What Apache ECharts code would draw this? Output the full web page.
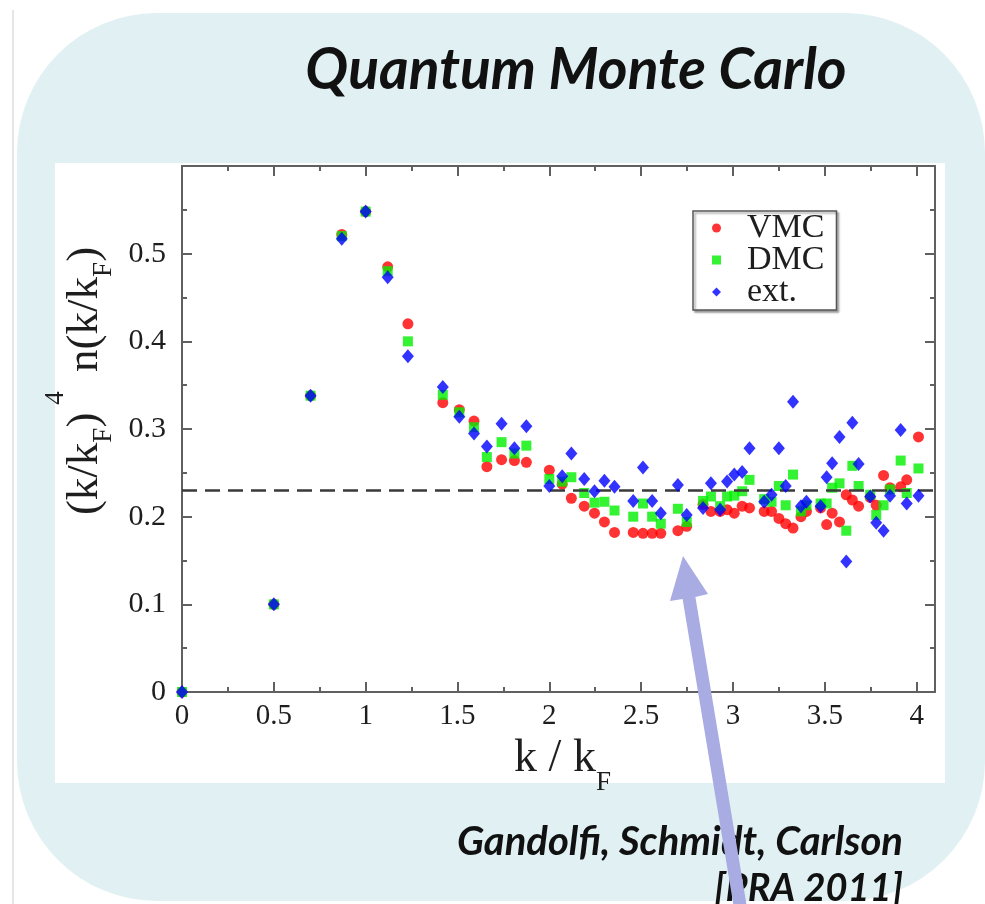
<!DOCTYPE html>
<html>
<head>
<meta charset="utf-8">
<script src="https://cdn.jsdelivr.net/npm/echarts@6/dist/echarts.min.js"></script>
<style>
  html, body { margin: 0; padding: 0; background: #ffffff; }
  #chart { width: 985px; height: 904px; }
</style>
</head>
<body>
<div id="chart"></div>
<script>
// k / kF positions (shared by the three runs)
var kValues = [0, 0.5, 0.7, 0.87, 1.0, 1.12, 1.23, 1.42, 1.51, 1.59, 1.66, 1.74, 1.81, 1.875,
  2.0, 2.07, 2.12, 2.19, 2.246, 2.30, 2.355, 2.457, 2.51, 2.56, 2.607, 2.70, 2.748,
  2.837, 2.88, 2.93, 2.968, 3.007, 3.05, 3.09, 3.17, 3.21, 3.25, 3.287, 3.327, 3.37,
  3.40, 3.477, 3.51, 3.54, 3.58, 3.617, 3.65, 3.684, 3.747, 3.78, 3.82, 3.855, 3.913,
  3.946, 4.01];

// (k/kF)^4 n(k/kF)
var vmc = [0, 0.1, 0.338, 0.522, 0.548, 0.485, 0.42, 0.33, 0.322, 0.309, 0.257, 0.265, 0.264, 0.262,
  0.253, 0.237, 0.221, 0.212, 0.204, 0.194, 0.182, 0.182, 0.181, 0.181, 0.181, 0.184, 0.189,
  0.214, 0.206, 0.206, 0.208, 0.204, 0.212, 0.21, 0.206, 0.206, 0.198, 0.192, 0.187, 0.2,
  0.206, 0.21, 0.191, 0.204, 0.194, 0.225, 0.219, 0.212, 0.222, 0.213, 0.247, 0.233, 0.234,
  0.242, 0.291];
var dmc = [0, 0.1, 0.338, 0.52, 0.548, 0.48, 0.40, 0.339, 0.319, 0.302, 0.268, 0.285, 0.272, 0.281,
  0.243, 0.24, 0.245, 0.227, 0.216, 0.217, 0.207, 0.2, 0.215, 0.2, 0.192, 0.209, 0.194,
  0.218, 0.223, 0.212, 0.223, 0.224, 0.229, 0.242, 0.22, 0.217, 0.235, 0.213, 0.248, 0.206,
  0.213, 0.215, 0.215, 0.233, 0.238, 0.184, 0.258, 0.235, 0.225, 0.202, 0.213, 0.231, 0.264,
  0.227, 0.255];
var ext = [0, 0.1, 0.338, 0.517, 0.548, 0.473, 0.383, 0.348, 0.314, 0.295, 0.28, 0.306, 0.278, 0.303,
  0.235, 0.246, 0.272, 0.243, 0.229, 0.241, 0.234, 0.218, 0.256, 0.218, 0.204, 0.236, 0.202,
  0.21, 0.238, 0.208, 0.24, 0.248, 0.251, 0.278, 0.217, 0.225, 0.278, 0.235, 0.331, 0.212,
  0.217, 0.212, 0.245, 0.261, 0.291, 0.149, 0.307, 0.26, 0.223, 0.193, 0.184, 0.224, 0.299,
  0.215, 0.224];

var seriesNames = ["VMC", "DMC", "ext."];
var refLevel = 0.23;

var SERIF = "'Liberation Serif', 'DejaVu Serif', serif";
var SANS = "Lato, 'Open Sans', sans-serif";
var AXIS_COLOR = "#606060";
var INK = "#1e1e1e";

function pairs(ys) {
  return ys.map(function (y, i) { return [kValues[i], y]; });
}

function onGrid(v, step) {
  return Math.abs(v / step - Math.round(v / step)) < 1e-6;
}

var frameTick = { show: true, inside: true, length: 10, lineStyle: { color: AXIS_COLOR, width: 2 } };
var frameMinor = { show: true, splitNumber: 2, length: 5, lineStyle: { color: AXIS_COLOR, width: 2 } };
var frameLine = { show: true, onZero: false, lineStyle: { color: AXIS_COLOR, width: 2 } };

var chart = echarts.init(document.getElementById("chart"), null, { renderer: "canvas" });

chart.setOption({
  backgroundColor: "#ffffff",
  animation: false,
  textStyle: { fontFamily: SERIF },
  graphic: [
    { type: "line", z: -20, shape: { x1: 13, y1: 10, x2: 13, y2: 904 },
      style: { stroke: "#e6e6e6", lineWidth: 2 } },
    { type: "rect", z: -20, shape: { x: 17, y: 13, width: 968, height: 888, r: 140 },
      style: { fill: "#e1f0f3" } },
    { type: "rect", z: -10, shape: { x: 55, y: 163, width: 890, height: 620 },
      style: { fill: "#ffffff" } },
    { type: "text", z: 5, x: 576, y: 71,
      style: { text: "Quantum Monte Carlo", fontFamily: SANS, fontWeight: "bold", fontStyle: "italic",
               fontSize: 57, fill: "#111111", textAlign: "center", textVerticalAlign: "middle" } },
    { type: "text", z: 5, x: 903, y: 842,
      style: { text: "Gandolfi, Schmidt, Carlson", fontFamily: SANS, fontWeight: "bold", fontStyle: "italic",
               fontSize: 40, fill: "#111111", textAlign: "right", textVerticalAlign: "middle" } },
    { type: "text", z: 5, x: 903, y: 889,
      style: { text: "[PRA 2011]", fontFamily: SANS, fontWeight: "bold", fontStyle: "italic",
               fontSize: 38, fill: "#111111", textAlign: "right", textVerticalAlign: "middle" } },
    { type: "polygon", z: 100,
      shape: { points: [[670, 601], [683, 556], [708, 594], [695.4, 597], [747.4, 910],
                        [734.6, 912], [682.6, 599]] },
      style: { fill: "#a9ace2" } }
  ],
  legend: {
    orient: "vertical",
    left: 693,
    top: 211,
    padding: [0, 12, 1, 19],
    itemGap: -2,
    itemWidth: 9,
    itemHeight: 9,
    backgroundColor: "#ffffff",
    borderColor: "#555555",
    borderWidth: 1.5,
    borderRadius: 0,
    shadowColor: "rgba(0,0,0,0.35)",
    shadowBlur: 2,
    shadowOffsetX: 2,
    shadowOffsetY: 2,
    textStyle: { fontFamily: SERIF, fontSize: 34, color: INK, padding: [0, 0, 0, 21] },
    data: [
      { name: seriesNames[0], icon: "circle" },
      { name: seriesNames[1], icon: "rect" },
      { name: seriesNames[2], icon: "diamond" }
    ]
  },
  grid: { left: 182, top: 166, width: 753, height: 526, containLabel: false },
  xAxis: [{
    type: "value", min: 0, max: 4.1, interval: 0.5, position: "bottom",
    axisLine: frameLine, axisTick: frameTick, minorTick: frameMinor,
    splitLine: { show: false }, minorSplitLine: { show: false },
    axisLabel: { fontFamily: SERIF, fontSize: 29, color: INK, margin: 10, showMaxLabel: false,
                 formatter: function (v) { return onGrid(v, 0.5) ? String(v) : ""; } },
    name: "{n|k / k}{s|F}",
    nameLocation: "middle",
    nameGap: 19,
    nameTextStyle: {
      padding: [0, 0, 0, 8],
      rich: {
        n: { fontFamily: SERIF, fontSize: 46, color: INK, lineHeight: 56, verticalAlign: "top" },
        s: { fontFamily: SERIF, fontSize: 27, color: INK, lineHeight: 28, verticalAlign: "top",
             padding: [34, 0, 0, 0] }
      }
    }
  }, {
    type: "value", min: 0, max: 4.1, interval: 0.5, position: "top",
    axisLine: frameLine, axisTick: frameTick, minorTick: frameMinor,
    splitLine: { show: false }, axisLabel: { show: false }
  }],
  yAxis: [{
    type: "value", min: 0, max: 0.6, interval: 0.1, position: "left",
    axisLine: frameLine, axisTick: frameTick, minorTick: frameMinor,
    splitLine: { show: false }, minorSplitLine: { show: false },
    axisLabel: { fontFamily: SERIF, fontSize: 30, color: INK, margin: 16,
                 formatter: function (v) { return v > 0.55 ? "" : String(Math.round(v * 10) / 10); } },
    name: "{n|(k/k}{s|F}{n|)}{p|4}{n| n(k/k}{s|F}{n|)}",
    nameLocation: "middle",
    nameRotate: 90,
    nameGap: 62,
    nameTextStyle: {
      padding: [0, 0, 0, 96],
      rich: {
        n: { fontFamily: SERIF, fontSize: 45, color: INK, lineHeight: 54, verticalAlign: "top",
             padding: [20, 0, 0, 0] },
        s: { fontFamily: SERIF, fontSize: 27, color: INK, lineHeight: 28, verticalAlign: "top",
             padding: [48, 0, 0, 0] },
        p: { fontFamily: SERIF, fontSize: 27, color: INK, lineHeight: 28, verticalAlign: "top",
             padding: [0, 8, 0, 8] }
      }
    }
  }, {
    type: "value", min: 0, max: 0.6, interval: 0.1, position: "right",
    axisLine: frameLine, axisTick: frameTick, minorTick: frameMinor,
    splitLine: { show: false }, axisLabel: { show: false }
  }],
  series: [
    {
      name: seriesNames[0], type: "scatter", symbol: "circle", symbolSize: 11,
      itemStyle: { color: "#ff0000" }, data: pairs(vmc), z: 3,
      markLine: {
        silent: true, symbol: "none", label: { show: false },
        lineStyle: { color: "#3a3a3a", width: 2.5, type: [15, 8] },
        data: [{ yAxis: refLevel }]
      }
    },
    {
      name: seriesNames[1], type: "scatter", symbol: "rect", symbolSize: 10,
      itemStyle: { color: "#00f000" }, data: pairs(dmc), z: 4
    },
    {
      name: seriesNames[2], type: "scatter", symbol: "diamond", symbolSize: [12, 14],
      itemStyle: { color: "#0000ff" }, data: pairs(ext), z: 5
    }
  ]
});
</script>
</body>
</html>
